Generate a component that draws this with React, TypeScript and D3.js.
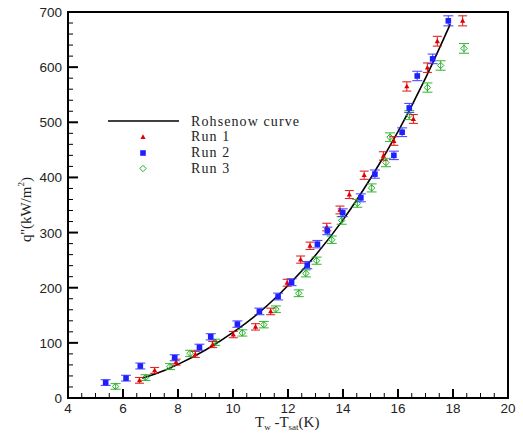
import React from "react";
import * as d3 from "d3";

const xTicks = [4, 6, 8, 10, 12, 14, 16, 18, 20];
const yTicks = [0, 100, 200, 300, 400, 500, 600, 700];

const curveX = [6.7, 7.5, 8, 9, 10, 11, 12, 13, 14, 15, 16, 17, 17.9];
const curveY = [36, 50, 61, 87, 119, 157, 204, 259, 323, 398, 483, 580, 678];

const run1X = [6.6, 7.15, 7.93, 8.63, 9.26, 10.01, 10.82, 11.37, 11.97, 12.46, 12.8, 13.41, 13.89, 14.23, 14.77, 15.47, 15.85, 16.56, 16.32, 17.07, 17.43, 18.35];
const run1Y = [32, 50, 65, 79, 97, 115, 129, 157, 209, 251, 276, 310, 341, 369, 404, 439, 466, 506, 565, 599, 647, 684];

const run2X = [5.37, 6.11, 6.63, 7.88, 8.78, 9.19, 10.16, 10.96, 11.64, 12.13, 12.7, 13.07, 13.43, 13.99, 14.65, 15.16, 15.85, 16.15, 16.41, 16.7, 17.26, 17.83];
const run2Y = [28, 36, 58, 73, 92, 111, 134, 157, 184, 210, 241, 279, 303, 336, 363, 406, 440, 482, 526, 584, 615, 684];

const run3X = [5.73, 6.82, 7.71, 8.44, 9.35, 10.34, 11.12, 11.56, 12.39, 12.65, 13.04, 13.59, 13.95, 14.52, 15.04, 15.56, 15.71, 16.41, 17.07, 17.55, 18.4];
const run3Y = [21, 37, 57, 81, 101, 118, 133, 161, 190, 226, 249, 287, 322, 353, 381, 427, 473, 513, 563, 603, 634];

const W = 523, H = 439;
const L = 68, R = 508, T = 12, B = 398;

export default function App() {
  const x = d3.scaleLinear().domain([4, 20]).range([L, R]);
  const y = d3.scaleLinear().domain([0, 700]).range([B, T]);
  const line = d3.line<number>().x((_, i) => x(curveX[i])).y((d) => y(d)).curve(d3.curveMonotoneX);

  const minorX = d3.range(4, 20.01, 0.5).filter((v) => !xTicks.includes(v));
  const minorY = d3.range(0, 700.01, 20).filter((v) => !yTicks.includes(v));

  const err = (q: number) => 5 + 0.006 * q;

  const errBar = (xv: number, yv: number, color: string, cap: number, key: string) => {
    const cx = x(xv);
    const y1 = y(yv + err(yv));
    const y2 = y(yv - err(yv));
    return (
      <g key={key} stroke={color} strokeWidth={1.1} opacity={0.85}>
        <line x1={cx} x2={cx} y1={y1} y2={y2} />
        <line x1={cx - cap} x2={cx + cap} y1={y1} y2={y1} />
        <line x1={cx - cap} x2={cx + cap} y1={y2} y2={y2} />
      </g>
    );
  };

  const tri = (cx: number, cy: number, key: string) => (
    <path key={key} d={`M${cx},${cy - 2.8}L${cx + 2.6},${cy + 1.9}L${cx - 2.6},${cy + 1.9}Z`} fill="#e00000" />
  );
  const sq = (cx: number, cy: number, key: string) => (
    <rect key={key} x={cx - 2.8} y={cy - 2.8} width={5.6} height={5.6} fill="#2020ff" />
  );
  const dia = (cx: number, cy: number, key: string) => (
    <path key={key} d={`M${cx},${cy - 3.2}L${cx + 3.2},${cy}L${cx},${cy + 3.2}L${cx - 3.2},${cy}Z`} fill="none" stroke="#22b022" strokeWidth={1} />
  );

  return (
    <svg width={W} height={H} style={{ position: "absolute", left: 0, top: 0 }}>
      <rect width={W} height={H} fill="#fff" />
      <path d={line(curveY) || ""} fill="none" stroke="#000" strokeWidth={1.6} />
      {run3X.map((v, i) => errBar(v, run3Y[i], "#22b022", 5, "e3" + i))}
      {run3X.map((v, i) => dia(x(v), y(run3Y[i]), "m3" + i))}
      {run1X.map((v, i) => errBar(v, run1Y[i], "#e00000", 4.5, "e1" + i))}
      {run1X.map((v, i) => tri(x(v), y(run1Y[i]), "m1" + i))}
      {run2X.map((v, i) => errBar(v, run2Y[i], "#3030ff", 5, "e2" + i))}
      {run2X.map((v, i) => sq(x(v), y(run2Y[i]), "m2" + i))}

      <rect x={L} y={T} width={R - L} height={B - T} fill="none" stroke="#000" strokeWidth={2} />
      {xTicks.map((v) => (
        <line key={"xt" + v} x1={x(v)} x2={x(v)} y1={B} y2={B - 9} stroke="#000" strokeWidth={2} />
      ))}
      {minorX.map((v) => (
        <line key={"xm" + v} x1={x(v)} x2={x(v)} y1={B} y2={B - 5} stroke="#000" strokeWidth={1} />
      ))}
      {yTicks.map((v) => (
        <line key={"yt" + v} x1={L} x2={L + 10} y1={y(v)} y2={y(v)} stroke="#000" strokeWidth={2} />
      ))}
      {minorY.map((v) => (
        <line key={"ym" + v} x1={L} x2={L + 5} y1={y(v)} y2={y(v)} stroke="#000" strokeWidth={1} />
      ))}
      {xTicks.map((v) => (
        <text key={"xl" + v} x={x(v)} y={413} textAnchor="middle" fontFamily="Liberation Sans, Arial, sans-serif" fontSize={13.5} fill="#222">
          {v}
        </text>
      ))}
      {yTicks.map((v) => (
        <text key={"yl" + v} x={62} y={y(v) + 5} textAnchor="end" fontFamily="Liberation Sans, Arial, sans-serif" fontSize={13.5} fill="#222">
          {v}
        </text>
      ))}

      <text x={255} y={427} fontFamily="Liberation Serif, Times New Roman, serif" fontSize={15} fill="#222">
        T<tspan fontSize={9} dy={3}>w</tspan>
        <tspan dy={-3}> -T</tspan>
        <tspan fontSize={9} dy={3}>sat</tspan>
        <tspan dy={-3}>(K)</tspan>
      </text>
      <text transform="translate(31,242) rotate(-90)" fontFamily="Liberation Serif, Times New Roman, serif" fontSize={15} fill="#222">
        q''(kW/m<tspan fontSize={9} dy={-7}>2</tspan>
        <tspan dy={7}>)</tspan>
      </text>

      <line x1={108} x2={179} y1={121} y2={121} stroke="#000" strokeWidth={1.6} />
      {tri(143, 137, "lt")}
      {sq(143, 153, "ls")}
      {dia(143, 168.5, "ld")}
      {["Rohsenow curve", "Run 1", "Run 2", "Run 3"].map((t, i) => (
        <text key={t} x={191} y={125.5 + i * 15.9} fontFamily="Liberation Serif, Times New Roman, serif" fontSize={14} letterSpacing={1.1} fill="#222">
          {t}
        </text>
      ))}
    </svg>
  );
}
